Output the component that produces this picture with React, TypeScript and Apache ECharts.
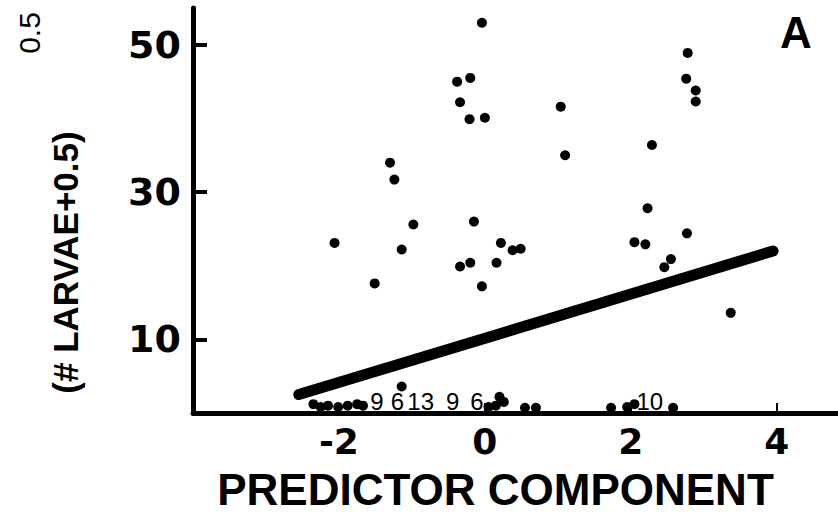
import React, { useEffect, useRef } from "react";
import * as echarts from "echarts";

// Scatter points (predictor component, transformed larvae count)
const pointX = [
  -0.04, -0.2, -0.38, -0.34, -0.21, 0.0, -1.3, -1.24,
  2.78, 2.76, 2.89, 2.89, 1.04, 1.1, 2.29,
  -0.98, -0.15, -2.06, -1.14, 0.22, 0.38, 0.49, -0.34, -0.2, 0.16, -1.51, -0.04,
  2.23, 2.05, 2.2, 2.77, 2.55, 2.46, 3.37,
  -2.35, -2.25, -2.15, -2.01, -1.88, -1.75, -1.67, -1.14,
  0.05, 0.15, 0.2, 0.26, 0.55, 0.7, 1.73, 1.95, 2.05, 2.58,
];
const pointY = [
  53.0, 45.5, 45.0, 42.2, 39.9, 40.1, 34.0, 31.7,
  48.9, 45.4, 43.8, 42.3, 41.6, 35.0, 36.4,
  25.6, 26.0, 23.1, 22.2, 23.1, 22.1, 22.3, 19.9, 20.4, 20.4, 17.6, 17.2,
  27.8, 23.2, 22.9, 24.4, 20.9, 19.8, 13.6,
  1.2, 0.8, 1.0, 0.8, 1.0, 1.2, 1.0, 3.6,
  0.8, 1.0, 2.2, 1.5, 0.7, 0.7, 0.7, 0.8, 1.2, 0.7,
];

// Counts of overlapping points printed near the axis
const countX = [-1.48, -1.2, -0.88, -0.44, -0.11, 2.26];
const countY = [1.5, 1.5, 1.5, 1.5, 1.5, 1.5];
const countText = ["9", "6", "13", "9", "6", "10"];

// Fitted regression line end points
const fitX = [-2.55, 3.95];
const fitY = [2.5, 22.0];

const xTicks = [-2, 0, 2, 4];
const yTicks = [10, 30, 50];

const FONT = "Liberation Sans, Arial, Helvetica, sans-serif";
const TICK_FONT = "DejaVu Sans, Liberation Sans, sans-serif";

export default function App() {
  const ref = useRef<HTMLDivElement>(null);
  useEffect(() => {
    if (!ref.current) return;
    const chart = echarts.init(ref.current, null, { renderer: "svg" });
    const points = pointX.map((x, i) => [x, pointY[i]]);
    const counts = countX.map((x, i) => [x, countY[i], countText[i]]);
    const fit = fitX.map((x, i) => [x, fitY[i]]);
    chart.setOption({
      animation: false,
      backgroundColor: "#ffffff",
      textStyle: { fontFamily: FONT },
      grid: { left: 193, right: 0, top: 8, bottom: 107, containLabel: false },
      xAxis: {
        type: "value",
        min: -4,
        max: 4.84,
        interval: 2,
        splitLine: { show: false },
        axisLine: { show: true, onZero: false, lineStyle: { color: "#000", width: 5, cap: "round" } },
        axisTick: { show: true, inside: true, length: 10, customValues: xTicks, lineStyle: { color: "#000", width: 2 } },
        axisLabel: {
          show: true,
          customValues: xTicks,
          color: "#000",
          fontSize: 36,
          fontWeight: "bold",
          fontFamily: TICK_FONT,
          margin: 10,
        },
        name: "PREDICTOR COMPONENT",
        nameLocation: "middle",
        nameGap: 54,
        nameTextStyle: {
          color: "#000",
          fontSize: 44,
          fontWeight: "bold",
          fontFamily: FONT,
          padding: [0, 40, 0, 0],
        },
      },
      yAxis: {
        type: "value",
        min: 0,
        max: 55,
        splitLine: { show: false },
        axisLine: { show: true, onZero: false, lineStyle: { color: "#000", width: 5, cap: "round" } },
        axisTick: { show: true, inside: true, length: 14, customValues: yTicks, lineStyle: { color: "#000", width: 4 } },
        axisLabel: {
          show: true,
          customValues: yTicks,
          color: "#000",
          fontSize: 38,
          fontWeight: "bold",
          fontFamily: TICK_FONT,
          margin: 12,
        },
        name: "(# LARVAE+0.5)",
        nameLocation: "middle",
        nameRotate: 90,
        nameGap: 110,
        nameTextStyle: {
          color: "#000",
          fontSize: 35,
          fontWeight: "bold",
          fontFamily: FONT,
          padding: [0, 104, 0, 0],
        },
      },
      graphic: [
        {
          type: "text",
          x: 29,
          y: 33,
          rotation: Math.PI / 2,
          style: {
            text: "0.5",
            fontSize: 30,
            fontFamily: FONT,
            fill: "#000",
            align: "center",
            verticalAlign: "middle",
          },
        },
        {
          type: "text",
          x: 796,
          y: 32,
          style: {
            text: "A",
            fontSize: 44,
            fontWeight: "bold",
            fontFamily: FONT,
            fill: "#000",
            align: "center",
            verticalAlign: "middle",
          },
        },
      ],
      series: [
        {
          type: "line",
          data: fit,
          symbol: "none",
          lineStyle: { color: "#000", width: 11, cap: "round" },
          z: 2,
        },
        {
          type: "scatter",
          data: points,
          symbol: "circle",
          symbolSize: 10,
          itemStyle: { color: "#000", opacity: 1 },
          z: 3,
        },
        {
          type: "scatter",
          data: counts,
          symbolSize: 0,
          itemStyle: { color: "transparent" },
          label: {
            show: true,
            position: "inside",
            formatter: (p: any) => p.value[2],
            color: "#000",
            opacity: 1,
            fontSize: 24,
            fontFamily: FONT,
          },
          z: 4,
        },
      ],
    });
    return () => chart.dispose();
  }, []);
  return (
    <div
      ref={ref}
      style={{ position: "fixed", left: 0, top: 0, width: 838, height: 520, background: "#fff" }}
    />
  );
}
